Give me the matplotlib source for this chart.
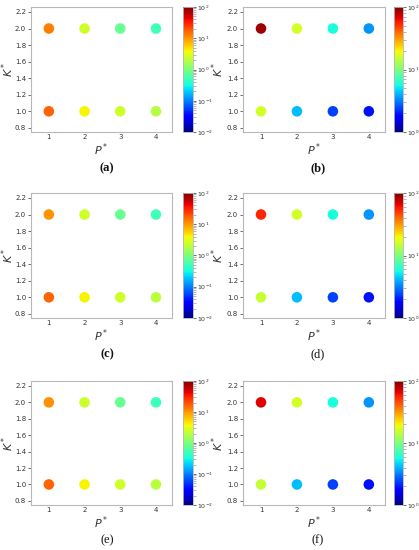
import numpy as np
import matplotlib
matplotlib.use("Agg")
import matplotlib.pyplot as plt
from matplotlib.colors import LogNorm
from matplotlib.ticker import LogLocator, NullFormatter

# ---------------- data ----------------
p_star = [1, 2, 3, 4]
k_star = [1.0, 2.0]

# values per panel: rows are K*=1 and K*=2, columns P*=1..4
vals_a = [[16.0, 4.0, 2.5, 1.9], [12.5, 2.5, 0.8, 0.52]]
vals_b = [[16.0, 4.2, 2.4, 1.9], [87.0, 16.0, 5.8, 3.5]]
vals_c = [[16.0, 4.0, 2.5, 2.0], [10.0, 2.5, 0.8, 0.52]]
vals_d = [[15.0, 4.2, 2.4, 1.9], [55.0, 16.0, 5.8, 3.5]]
vals_e = [[16.0, 4.0, 2.5, 2.0], [10.5, 2.4, 0.8, 0.5]]
vals_f = [[15.0, 4.2, 2.4, 1.9], [68.0, 16.0, 5.8, 3.5]]

panel_labels = ["(a)", "(b)", "(c)", "(d)", "(e)", "(f)"]
panel_vals = [vals_a, vals_b, vals_c, vals_d, vals_e, vals_f]
left_range = (1e-2, 1e2)
right_range = (1e0, 1e2)

W, H = 419, 550
fig = plt.figure(figsize=(W / 100, H / 100), dpi=100)


def px(x0, y0, x1, y1):
    return [x0 / W, 1 - y1 / H, (x1 - x0) / W, (y1 - y0) / H]


cols = [dict(ax=(31, 172), cb=(183, 193), lab=107, ylab=16),
        dict(ax=(243, 385), cb=(394, 403), lab=318, ylab=226)]
rows = [dict(top=7, bot=132, lab=168), dict(top=193, bot=318, lab=354), dict(top=381, bot=505, lab=540)]
frame_c = "#b8b8b8"
text_c = "#333333"

for i, (lab, vals) in enumerate(zip(panel_labels, panel_vals)):
    r, c = divmod(i, 2)
    col, row = cols[c], rows[r]
    vmin, vmax = left_range if c == 0 else right_range

    ax = fig.add_axes(px(col["ax"][0], row["top"], col["ax"][1], row["bot"]))
    xx, yy = np.meshgrid(p_star, k_star)
    sc = ax.scatter(xx.ravel(), yy.ravel(), c=np.array(vals).ravel(), s=58,
                    cmap="jet", norm=LogNorm(vmin=vmin, vmax=vmax), linewidths=0)
    ax.set_xlim(0.5, 4.45)
    ax.set_ylim(0.75, 2.26)
    ax.set_xticks(p_star)
    ax.set_yticks(np.arange(0.8, 2.21, 0.2))
    ax.set_yticklabels([f"{v:.1f}" for v in np.arange(0.8, 2.21, 0.2)])
    ax.tick_params(labelsize=5, colors=text_c, length=2, width=0.5, pad=1.5)
    ax.tick_params(axis="x", length=0)
    for sp in ax.spines.values():
        sp.set_color(frame_c)
        sp.set_linewidth(0.8)
    ax.set_xlabel("$P^*$", fontsize=8, color=text_c, labelpad=1)
    ax.set_ylabel("$K^*$", fontsize=8, color=text_c)
    axw = col["ax"][1] - col["ax"][0]
    ax.yaxis.set_label_coords((col["ylab"] - col["ax"][0]) / axw, 0.5)

    cax = fig.add_axes(px(col["cb"][0], row["top"], col["cb"][1], row["bot"]))
    cb = fig.colorbar(sc, cax=cax)
    cb.outline.set_edgecolor(frame_c)
    cb.outline.set_linewidth(0.6)
    cax.yaxis.set_minor_locator(LogLocator(base=10, subs=np.arange(2, 10)))
    cax.yaxis.set_minor_formatter(NullFormatter())
    cax.tick_params(which="major", labelsize=4.5, colors=text_c, length=2.5, width=0.5, pad=0.5)
    cax.tick_params(which="minor", colors="#999999", length=2.5, width=0.5)

    weight = "bold" if i < 3 else "normal"
    fig.text(col["lab"] / W, 1 - row["lab"] / H, lab, ha="center", va="center",
             fontsize=9, family="Liberation Serif", weight=weight, color="#111111")

fig.savefig("out.png", dpi=100)
